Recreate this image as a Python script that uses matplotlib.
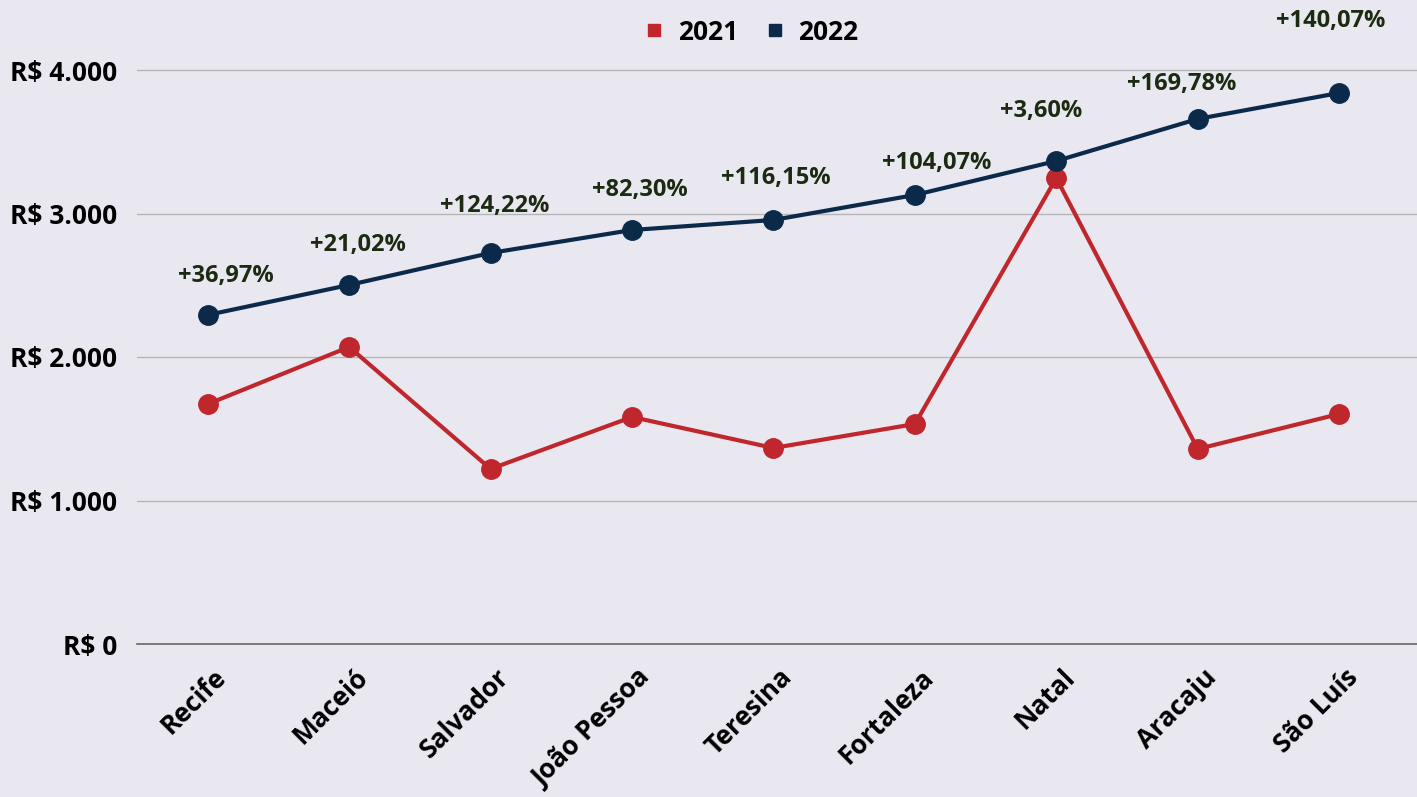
import matplotlib
matplotlib.use("Agg")
import matplotlib.pyplot as plt
import matplotlib.transforms as mtransforms
from matplotlib.lines import Line2D

cities = ["Recife", "Maceió", "Salvador", "João Pessoa", "Teresina",
          "Fortaleza", "Natal", "Aracaju", "São Luís"]
values_2021 = [1672, 2070, 1220, 1582, 1366, 1533, 3247, 1359, 1603]
values_2022 = [2293, 2502, 2725, 2885, 2955, 3129, 3366, 3659, 3840]
pct_labels = ["+36,97%", "+21,02%", "+124,22%", "+82,30%", "+116,15%",
              "+104,07%", "+3,60%", "+169,78%", "+140,07%"]
yticks = [0, 1000, 2000, 3000, 4000]
ytick_labels = ["R$ 0", "R$ 1.000", "R$ 2.000", "R$ 3.000", "R$ 4.000"]

# label offsets (points) relative to 2022 markers
label_dx = [13, 6.5, 3, 6, 2, 16, -11, -11.5, -6]
label_dy = [28, 29, 34, 29, 30, 23, 36, 25, 52]

BG = "#E9E8F1"
RED = "#C0272D"
NAVY = "#0B2A4A"
TXT = "#1B2A10"

plt.rcParams['font.family'] = ['Open Sans', 'DejaVu Sans']
plt.rcParams['font.weight'] = 'bold'

fig = plt.figure(figsize=(14.17, 7.97), dpi=100, facecolor=BG)
ax = fig.add_axes([137/1417, 1 - 644/797, 1 - 137/1417, (644 - 10)/797])
ax.set_facecolor(BG)

x = list(range(len(cities)))
ax.plot(x, values_2021, color=RED, lw=3, marker='o', ms=14, zorder=3)
ax.plot(x, values_2022, color=NAVY, lw=3, marker='o', ms=14, zorder=4)

for xi, yi, lab, dx, dy in zip(x, values_2022, pct_labels, label_dx, label_dy):
    ax.annotate(lab, (xi, yi), xytext=(dx, dy), textcoords='offset points',
                ha='center', va='center', fontsize=17, fontweight='bold', color=TXT)

ax.set_xlim(-0.5, 8.55)
ax.set_ylim(0, (644 - 10) / 0.1435)
ax.set_yticks(yticks)
ax.set_yticklabels(ytick_labels, fontsize=19, fontweight='bold')
ax.set_xticks(x)
ax.set_xticklabels(cities, rotation=45, ha='right', rotation_mode='anchor',
                   fontsize=19, fontweight='bold')
ax.tick_params(axis='both', length=0)
ax.tick_params(axis='y', pad=14)
ax.tick_params(axis='x', pad=14)
shift = mtransforms.ScaledTranslation(5/100, 0, fig.dpi_scale_trans)
for lab in ax.get_xticklabels():
    lab.set_transform(lab.get_transform() + shift)

ax.grid(axis='y', color='#B5B5B8', lw=1)
ax.set_axisbelow(True)
for s in ['top', 'right', 'left']:
    ax.spines[s].set_visible(False)
ax.spines['bottom'].set_color('#666666')
ax.spines['bottom'].set_linewidth(1.2)

handles = [Line2D([], [], color=RED, marker='s', ls='', ms=8),
           Line2D([], [], color=NAVY, marker='s', ls='', ms=8)]
fig.legend(handles, ["2021", "2022"], loc='center', bbox_to_anchor=(751/1417, 1 - 32/797),
           ncol=2, frameon=False, prop={'weight': 'bold', 'size': 19},
           handletextpad=0.5, columnspacing=1.0, handlelength=0.8)

fig.savefig("out.png", dpi=100, facecolor=BG)
